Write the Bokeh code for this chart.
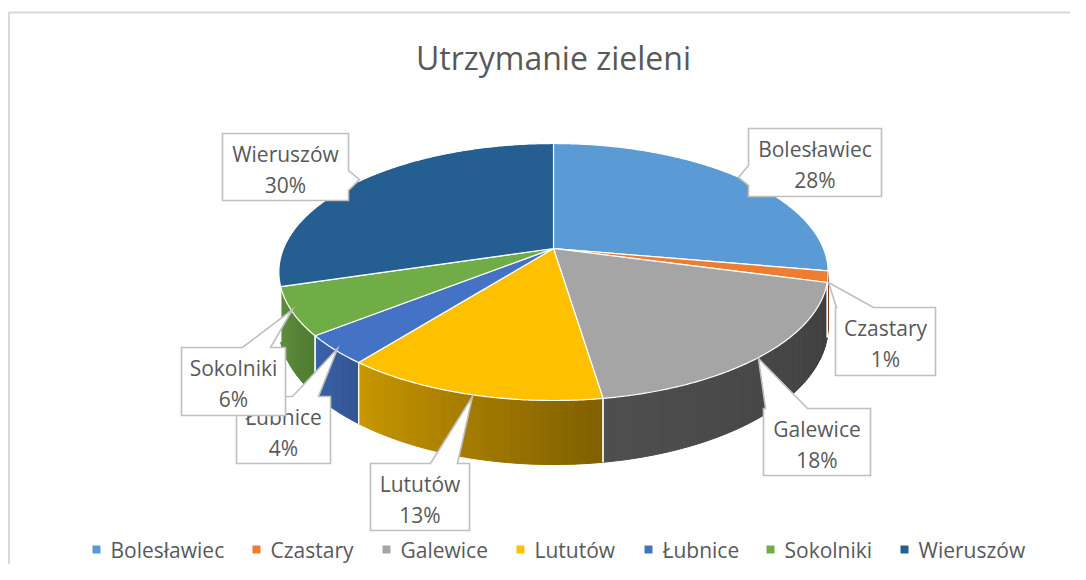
import numpy as np
from bokeh.plotting import figure
from bokeh.models import Range1d
from bokeh.embed import file_html
from bokeh.resources import INLINE
from bokeh.core.properties import value

# ---------------- data ----------------
title = "Utrzymanie zieleni"
categories = ["Bolesławiec", "Czastary", "Galewice", "Lututów", "Łubnice", "Sokolniki", "Wieruszów"]
values = [27.8, 1.4, 18.4, 13.0, 3.7, 6.0, 29.7]

# ---------------- styles ----------------
colors = ["#5B9BD5", "#ED7D31", "#A5A5A5", "#FFC000", "#4472C4", "#70AD47", "#255E91"]
# wall shading factor (left edge, right edge) per slice
wall_shade = [(0.6, 0.6), (0.55, 0.5), (0.48, 0.39), (0.79, 0.5), (0.87, 0.75), (0.84, 0.72), (0.8, 0.76)]
wall_visible = [True, True, True, True, True, True, False]
TEXT = "#595959"
FONT = "Open Sans"

# callout layout: box (x0, y0, x1, y1), edge, base a..b, tip
callouts = [
    ((748, 128, 881, 196), "left", (165, 185), (738, 177)),
    ((835, 307, 935, 375), "top", (836, 873), (828, 282)),
    ((763, 408, 870, 475), "top", (765, 807), (758, 358)),
    ((370, 463, 469, 530), "top", (430, 457), (472, 396)),
    ((236, 396, 330, 463), "top", (292, 318), (337, 348)),
    ((181, 347, 285, 415), "top", (242, 270), (292, 309)),
    ((222, 133, 348, 200), "right", (170, 190), (359, 179)),
]
legend_x = [96, 256, 386, 520, 648, 770, 904]
LEGEND_Y = 549

W, H = 1070, 564
p = figure(width=W, height=H, x_range=Range1d(0, W), y_range=Range1d(H, 0),
           output_backend="svg", toolbar_location=None, min_border=0,
           x_axis_type=None, y_axis_type=None)
p.grid.visible = False
p.outline_line_color = None
p.background_fill_color = "white"
p.border_fill_color = "white"

# chart frame (left & top)
p.line(x=[8.5, 8.5, W], y=[H, 12, 12], line_color="#D9D9D9", line_width=2)

# ---------------- pie geometry (perspective 3D) ----------------
CX, CY, RX, RY, Q, DEPTH = 553.0, 248.0, 270.0, 124.2, 0.183, 52.3


def proj(t, z=0.0):
    X, Y = np.cos(t), np.sin(t)
    s = 1.0 / (1.0 + Q * Y)
    return CX + RX * X * s, CY - RY * Y * s + z * DEPTH * s


def shade(hexcol, f):
    r, g, b = int(hexcol[1:3], 16), int(hexcol[3:5], 16), int(hexcol[5:7], 16)
    return "#%02x%02x%02x" % (int(r * f), int(g * f), int(b * f))


total = float(sum(values))
cum = np.concatenate([[0.0], np.cumsum(values) / total])
t_start = np.pi / 2 - 2 * np.pi * cum[:-1]
t_end = np.pi / 2 - 2 * np.pi * cum[1:]

t_left = -np.pi + np.arcsin(Q)
t_right = -np.arcsin(Q)

# walls
wx, wy, wc = [], [], []
bx0, by0, bx1, by1 = [], [], [], []
for i in range(len(values)):
    if not wall_visible[i]:
        continue
    lo = max(t_end[i], t_left)
    hi = min(t_start[i], t_right)
    if hi <= lo:
        continue
    n = max(2, int((hi - lo) / np.radians(1.0)))
    ts = np.linspace(lo, hi, n + 1)
    fl, fr = wall_shade[i]
    for k in range(n):
        a, b = ts[k], ts[k + 1]
        u = (k + 0.5) / n
        xa0, ya0 = proj(a, 0)
        xb0, yb0 = proj(b, 0)
        xa1, ya1 = proj(a, 1)
        xb1, yb1 = proj(b, 1)
        wx.append([xa0, xb0, xb1, xa1])
        wy.append([ya0, yb0, yb1, ya1])
        wc.append(shade(colors[i], fl + (fr - fl) * u))
p.patches(xs=wx, ys=wy, fill_color=wc, line_color=wc, line_width=1)

for tb in list(t_start) + list(t_end):
    tb = (tb + np.pi) % (2 * np.pi) - np.pi
    if t_left < tb < t_right:
        x0, y0 = proj(tb, 0)
        x1, y1 = proj(tb, 1)
        bx0.append(x0); by0.append(y0); bx1.append(x1); by1.append(y1)
p.segment(x0=bx0, y0=by0, x1=bx1, y1=by1, line_color="white", line_width=1.2)

# top faces
tx, ty = [], []
for i in range(len(values)):
    ts = np.linspace(t_start[i], t_end[i], max(3, int(abs(t_start[i] - t_end[i]) / np.radians(0.5))))
    xs, ys = proj(ts, 0)
    tx.append([CX] + list(xs))
    ty.append([CY] + list(ys))
p.patches(xs=tx, ys=ty, fill_color=colors, line_color="white", line_width=1.2, line_join="round")

# ---------------- callouts ----------------


def callout_poly(box, edge, base, tip):
    x0, y0, x1, y1 = box
    a, b = base
    pts = [(x0, y0)]
    if edge == "top":
        pts += [(a, y0), tip, (b, y0)]
    pts += [(x1, y0)]
    if edge == "right":
        pts += [(x1, a), tip, (x1, b)]
    pts += [(x1, y1), (x0, y1)]
    if edge == "left":
        pts += [(x0, b), tip, (x0, a)]
    return [q[0] for q in pts], [q[1] for q in pts]


for i, name in enumerate(categories):
    box, edge, base, tip = callouts[i]
    xs, ys = callout_poly(box, edge, base, tip)
    p.patch(x=xs, y=ys, fill_color="white", line_color="#BFBFBF", line_width=1.6, line_join="miter")
    pct = "%d%%" % int(round(values[i] / total * 100))
    xc = (box[0] + box[2]) / 2
    p.text(x=[xc, xc], y=[box[1] + 20, box[1] + 51], text=[name, pct],
           text_align="center", text_baseline="middle", text_font=value(FONT),
           text_font_size="21px", text_color=TEXT)

# ---------------- title ----------------
p.text(x=[CX], y=[57], text=[title], text_align="center", text_baseline="middle",
       text_font=value(FONT), text_font_size="32px", text_color=TEXT)

# ---------------- legend ----------------
p.scatter(x=legend_x, y=[LEGEND_Y] * len(legend_x), marker="square", size=8,
          fill_color=colors, line_color=None)
p.text(x=[v + 14 for v in legend_x], y=[LEGEND_Y] * len(legend_x), text=categories,
       text_align="left", text_baseline="middle", text_font=value(FONT),
       text_font_size="21px", text_color=TEXT)

open("out.html", "w").write(file_html(p, INLINE))
